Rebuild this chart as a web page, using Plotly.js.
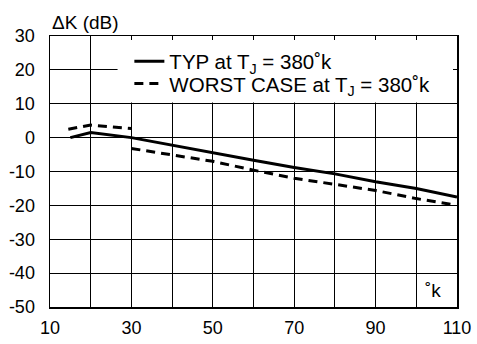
<!DOCTYPE html>
<html>
<head>
<meta charset="utf-8">
<script src="https://cdn.plot.ly/plotly-3.0.1.min.js"></script>
<style>html,body{margin:0;padding:0;background:#fff;}#chart{width:477px;height:344px;}</style>
</head>
<body>
<div id="chart"></div>
<script>
// Data
const typTemp = [15, 20, 30, 40, 50, 60, 70, 80, 90, 100, 110];
const typDK   = [0, 1.5, 0, -2.3, -4.6, -6.7, -8.8, -10.7, -13, -15, -17.5];
const worstTemp = [14.5, 20, 30, null, 30, 40, 50, 60, 70, 80, 90, 100, 109];
const worstDK   = [2.5, 3.7, 2.7, null, -3.2, -5.2, -7, -9.6, -12, -13.8, -15.6, -18, -19.8];
const xTickVals = [10, 30, 50, 70, 90, 110];
const yTickVals = [30, 20, 10, 0, -10, -20, -30, -40, -50];
const seriesNames = ['TYP at T<sub>J</sub> = 380˚k', 'WORST CASE at T<sub>J</sub> = 380˚k'];

const FONT = 'Liberation Sans, Arial, Helvetica, sans-serif';

const traces = [
  {x: typTemp, y: typDK, name: seriesNames[0], mode: 'lines', legend: 'legend',
   line: {color: '#000', width: 3}},
  {x: worstTemp, y: worstDK, name: seriesNames[1], mode: 'lines', connectgaps: false, legend: 'legend2',
   line: {color: '#000', width: 3, dash: '9px,6px'}}
];

const legendCommon = {xanchor: 'left', yanchor: 'middle', bgcolor: 'rgba(0,0,0,0)',
                      font: {size: 20.5, family: FONT}};

const layout = {
  width: 477, height: 344,
  margin: {l: 50, r: 20, t: 36, b: 37},
  paper_bgcolor: '#fff', plot_bgcolor: '#fff',
  font: {family: FONT, color: '#000', size: 18},
  showlegend: true,
  legend: Object.assign({x: 0.195, y: 0.906}, legendCommon),
  legend2: Object.assign({x: 0.195, y: 0.824}, legendCommon),
  xaxis: {range: [10, 110], tickvals: xTickVals, ticktext: xTickVals.map(String),
          showgrid: true, gridcolor: '#000', gridwidth: 1,
          minor: {dtick: 10, showgrid: true, gridcolor: '#000', gridwidth: 1, ticks: 'inside', ticklen: 4, tickcolor: '#000'},
          ticks: 'inside', ticklen: 4, tickcolor: '#000',
          showline: true, linecolor: '#000', linewidth: 1.5, mirror: 'allticks',
          zeroline: false, tickfont: {size: 18}, ticklabelstandoff: 4, fixedrange: true},
  yaxis: {range: [-50, 30], tickvals: yTickVals, ticktext: yTickVals.map(String),
          showgrid: true, gridcolor: '#000', gridwidth: 1,
          ticks: 'inside', ticklen: 4, tickcolor: '#000',
          showline: true, linecolor: '#000', linewidth: 1.5, mirror: 'allticks',
          zeroline: false, tickfont: {size: 18}, ticklabelstandoff: 10, fixedrange: true},
  shapes: [
    {type: 'rect', xref: 'x', yref: 'y', x0: 26.6, x1: 110, y0: 10.4, y1: 30,
     fillcolor: '#fff', line: {width: 0}, layer: 'between'}
  ],
  annotations: [
    {text: 'ΔK (dB)', xref: 'paper', yref: 'paper', x: 0, y: 1, xanchor: 'left', yanchor: 'bottom',
     yshift: 1, showarrow: false, font: {size: 19, family: FONT}},
    {text: '˚k', xref: 'x', yref: 'y', x: 106.5, y: -45, xanchor: 'right', yanchor: 'middle',
     showarrow: false, font: {size: 19, family: FONT}}
  ]
};

Plotly.newPlot('chart', traces, layout, {displayModeBar: false, staticPlot: true});
</script>
</body>
</html>
